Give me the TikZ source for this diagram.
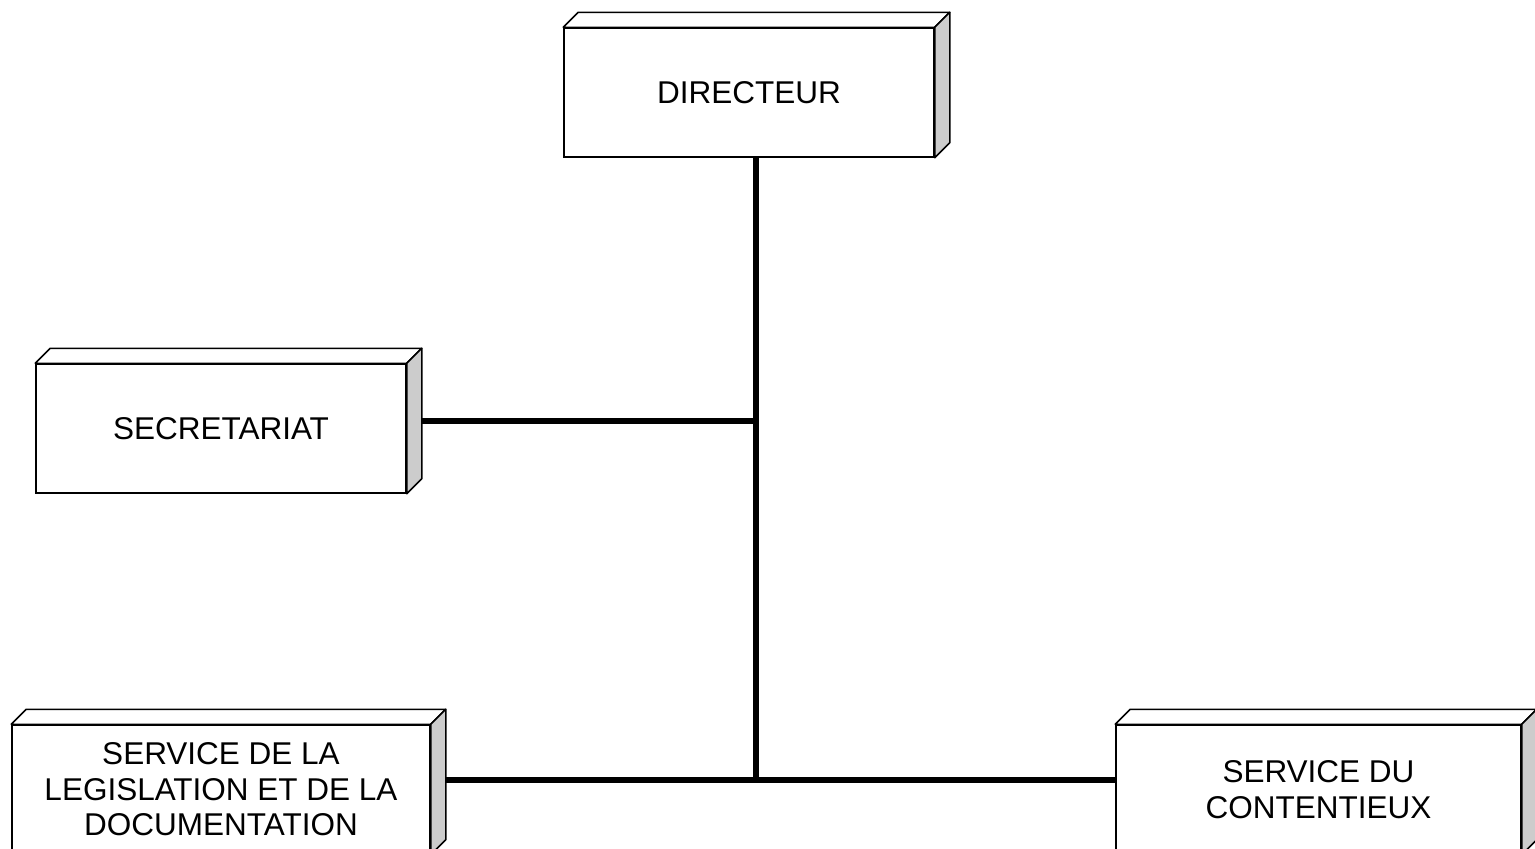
\documentclass[tikz,border=0pt]{standalone}
\usepackage{fontspec}
\setmainfont{Liberation Sans}
\usetikzlibrary{backgrounds}
\tikzset{
  front/.style={draw=black, line width=1.5pt, fill=white, align=center, inner sep=0pt,
    minimum width=#1, minimum height=129pt, font=\fontsize{31.5}{35.5}\selectfont},
  topface/.style={draw=black, line width=1.5pt, fill=white, line join=round},
  sideface/.style={draw=black, line width=1.5pt, fill=black!20, line join=round},
  link/.style={line width=6pt, draw=black}
}
\newcommand\threedbox[1]{%
  \path[topface] (#1.north west) -- ++(15,-15) -- ([shift={(15,-15)}]#1.north east) -- (#1.north east) -- cycle;
  \path[sideface] (#1.north east) -- ++(15,-15) -- ([shift={(15,-15)}]#1.south east) -- (#1.south east) -- cycle;
}
\begin{document}
\begin{tikzpicture}[x=1pt,y=-1pt]
\useasboundingbox (0,0) rectangle (1535,849);
\clip (0,0) rectangle (1535,849);
\node[front=370pt] (dir) at (749,92.5) {DIRECTEUR};
\node[front=370pt] (sec) at (221,428.5) {SECRETARIAT};
\node[front=418pt] (leg) at (221,789.5) {SERVICE DE LA\\LEGISLATION ET DE LA\\DOCUMENTATION};
\node[front=405pt] (con) at (1318.5,789.5) {SERVICE DU\\CONTENTIEUX};
\threedbox{dir}
\threedbox{sec}
\threedbox{leg}
\threedbox{con}
\coordinate (j1) at (756,421);
\coordinate (j2) at (756,780);
\begin{scope}[on background layer]
\draw[link] (dir.south -| j1) -- (j2);
\draw[link] (sec.east |- j1) -- (j1);
\draw[link] (leg.east |- j2) -- (con.west |- j2);
\end{scope}
\end{tikzpicture}
\end{document}
